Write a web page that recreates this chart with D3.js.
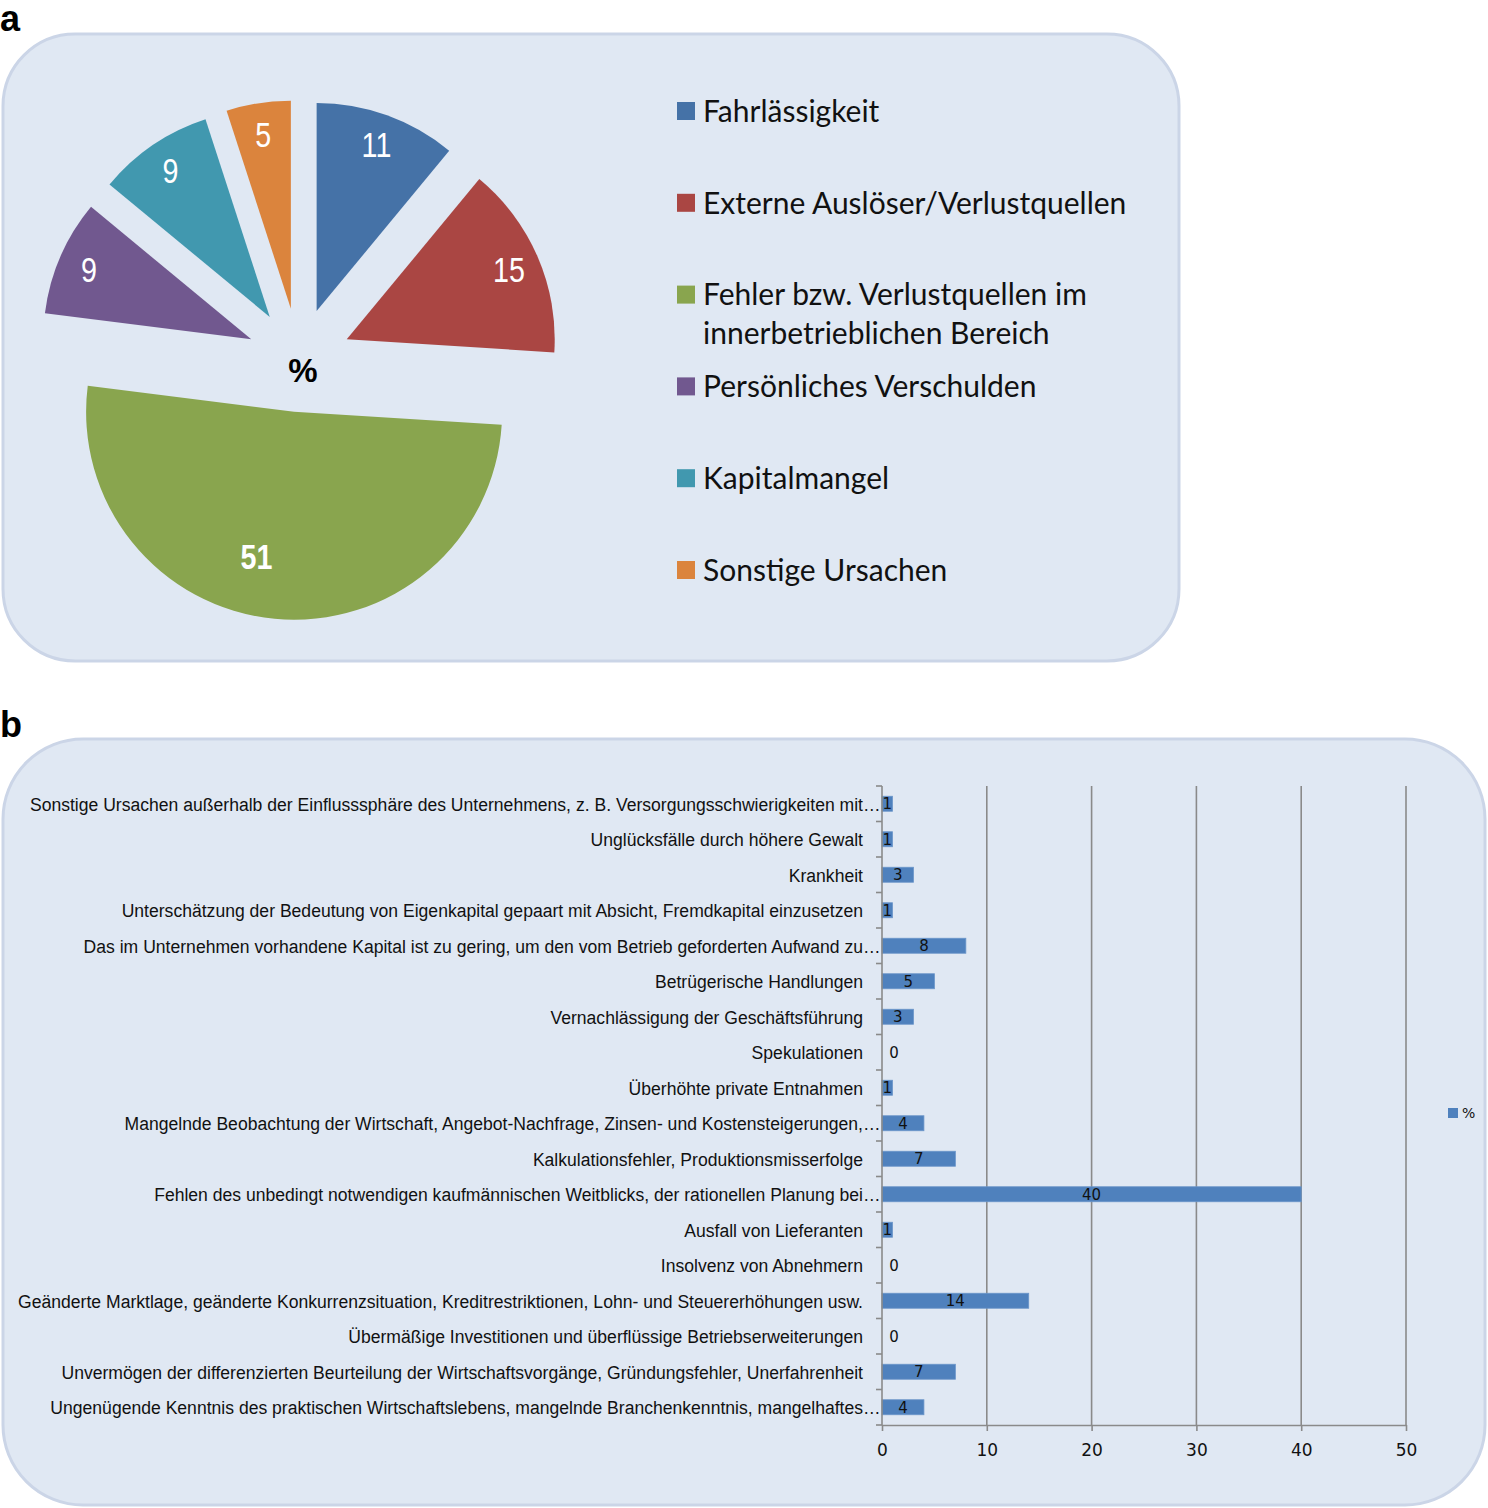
<!DOCTYPE html>
<html>
<head>
<meta charset="utf-8">
<script src="https://cdn.jsdelivr.net/npm/d3@7"></script>
<style>
  body { margin: 0; background: #fff; }
  svg { display: block; }
</style>
</head>
<body>
<svg id="chart" width="1488" height="1508"></svg>
<script>
// pie data (panel a)

var pieCategories = ["Fahrlässigkeit", "Externe Auslöser/Verlustquellen",
  "Fehler bzw. Verlustquellen im innerbetrieblichen Bereich",
  "Persönliches Verschulden", "Kapitalmangel", "Sonstige Ursachen"];
var pieValues = [11, 15, 51, 9, 9, 5];
var pieLegendLines = [["Fahrlässigkeit"], ["Externe Auslöser/Verlustquellen"],
  ["Fehler bzw. Verlustquellen im", "innerbetrieblichen Bereich"],
  ["Persönliches Verschulden"], ["Kapitalmangel"], ["Sonstige Ursachen"]];
var pieColors = ["#4572a7", "#aa4643", "#89a54e", "#71588f", "#4198af", "#db843d"];

// bar data (panel b), top to bottom

var barCategories = [
  "Sonstige Ursachen außerhalb der Einflusssphäre des Unternehmens, z. B. Versorgungsschwierigkeiten mit…",
  "Unglücksfälle durch höhere Gewalt",
  "Krankheit",
  "Unterschätzung der Bedeutung von Eigenkapital gepaart mit Absicht, Fremdkapital einzusetzen",
  "Das im Unternehmen vorhandene Kapital ist zu gering, um den vom Betrieb geforderten Aufwand zu…",
  "Betrügerische Handlungen",
  "Vernachlässigung der Geschäftsführung",
  "Spekulationen",
  "Überhöhte  private Entnahmen",
  "Mangelnde Beobachtung der Wirtschaft, Angebot-Nachfrage, Zinsen- und Kostensteigerungen,…",
  "Kalkulationsfehler, Produktionsmisserfolge",
  "Fehlen des unbedingt notwendigen kaufmännischen Weitblicks, der rationellen Planung bei…",
  "Ausfall von Lieferanten",
  "Insolvenz von Abnehmern",
  "Geänderte Marktlage, geänderte Konkurrenzsituation, Kreditrestriktionen, Lohn- und Steuererhöhungen usw.",
  "Übermäßige Investitionen und überflüssige Betriebserweiterungen",
  "Unvermögen der differenzierten Beurteilung der Wirtschaftsvorgänge, Gründungsfehler, Unerfahrenheit",
  "Ungenügende Kenntnis des praktischen Wirtschaftslebens, mangelnde Branchenkenntnis, mangelhaftes…"
];
var barValues = [1, 1, 3, 1, 8, 5, 3, 0, 1, 4, 7, 40, 1, 0, 14, 0, 7, 4];
var barTicks = [0, 10, 20, 30, 40, 50];
var barSeries = "%";

var svg = d3.select("#chart");
var panelFill = "#e0e8f3", panelStroke = "#cbd5e7";
var arial = "'Liberation Sans', Arial, sans-serif";
var narrowScale = 0.82;   // fake Arial Narrow for pie numbers
var catScale = 0.925;     // squeeze for the long category labels

// panel letters and backgrounds

svg.append("text").attr("x", 0).attr("y", 31)
  .style("font", "bold 36px " + arial).text("a");
svg.append("text").attr("x", 0).attr("y", 737)
  .style("font", "bold 36px " + arial).text("b");

svg.append("rect").attr("x", 3).attr("y", 34).attr("width", 1176).attr("height", 627)
  .attr("rx", 72).attr("fill", panelFill).attr("stroke", panelStroke).attr("stroke-width", 3);
svg.append("rect").attr("x", 3).attr("y", 739).attr("width", 1482).attr("height", 766)
  .attr("rx", 80).attr("fill", panelFill).attr("stroke", panelStroke).attr("stroke-width", 3);

// exploded pie

var cx = 299, cy = 360, radius = 208, explode = 52;
var pie = d3.pie().sort(null).value(function (d) { return d; });
var arc = d3.arc().innerRadius(0).outerRadius(radius);
var arcs = pie(pieValues);

var pieG = svg.append("g").attr("transform", "translate(" + cx + "," + cy + ")");

var slice = pieG.selectAll("g.slice").data(arcs).enter().append("g")
  .attr("class", "slice")
  .attr("transform", function (d) {
    var a = (d.startAngle + d.endAngle) / 2;
    return "translate(" + (explode * Math.sin(a)) + "," + (-explode * Math.cos(a)) + ")";
  });

slice.append("path")
  .attr("d", arc)
  .attr("fill", function (d, i) { return pieColors[i]; });

// labels sit near the rim, the big slice gets its label pulled inward

slice.append("text")
  .attr("transform", function (d) {
    var a = (d.startAngle + d.endAngle) / 2;
    if (d.value > 50) a += 0.16;
    var r = d.value > 50 ? radius * 0.72 : radius * 0.85;
    return "translate(" + (r * Math.sin(a)) + "," + (-r * Math.cos(a)) + ") scale(" + narrowScale + ",1)";
  })
  .attr("text-anchor", "middle")
  .attr("dy", "0.36em")
  .attr("fill", "#fff")
  .style("font-family", arial)
  .style("font-size", "35px")
  .style("font-weight", function (d) { return d.value > 50 ? "bold" : "normal"; })
  .text(function (d) { return d.value; });

pieG.append("text").attr("x", 4).attr("y", 10).attr("dy", "0.36em")
  .attr("text-anchor", "middle")
  .style("font", "bold 33px " + arial)
  .text("%");

// pie legend

var legend = svg.append("g").attr("transform", "translate(677,111)");
var legItem = legend.selectAll("g").data(pieLegendLines).enter().append("g")
  .attr("transform", function (d, i) { return "translate(0," + (i * 91.8) + ")"; });

legItem.append("rect").attr("x", 0).attr("y", -9).attr("width", 18).attr("height", 18)
  .attr("fill", function (d, i) { return pieColors[i]; });

legItem.append("text")
  .style("font-family", "Lato, 'Open Sans', sans-serif")
  .style("font-size", "30px")
  .attr("fill", "#111")
  .selectAll("tspan").data(function (d) { return d; }).enter().append("tspan")
  .attr("x", 26)
  .attr("y", function (d, i) { return i * 39; })
  .attr("dy", "0.36em")
  .text(function (d) { return d; });

// bar chart

var x = d3.scaleLinear().domain([0, 50]).range([882, 1406]);
var y = d3.scaleBand().domain(d3.range(barCategories.length)).range([786, 1425]);
var gridColor = "#8a8a8a";

var plot = svg.append("g");

plot.selectAll("line.grid").data(barTicks.slice(1)).enter().append("line")
  .attr("x1", x).attr("x2", x).attr("y1", 786).attr("y2", 1425)
  .attr("stroke", gridColor).attr("stroke-width", 1.6);

var barH = 15;
plot.selectAll("rect.bar").data(barValues).enter().append("rect")
  .attr("x", x(0))
  .attr("y", function (d, i) { return y(i) + y.bandwidth() / 2 - barH / 2; })
  .attr("width", function (d) { return x(d) - x(0); })
  .attr("height", barH)
  .attr("fill", "#4f81bd")
  .attr("stroke", "#6a95c9").attr("stroke-width", function (d) { return d > 0 ? 0.8 : 0; });

plot.selectAll("text.val").data(barValues).enter().append("text")
  .attr("x", function (d) { return d > 0 ? (x(d) + x(0)) / 2 : x(0) + 12; })
  .attr("y", function (d, i) { return y(i) + y.bandwidth() / 2; })
  .attr("dy", "0.38em")
  .attr("text-anchor", "middle")
  .style("font", "15px 'DejaVu Sans', Verdana, sans-serif")
  .attr("fill", "#111")
  .text(function (d) { return d; });

// y axis with category ticks

plot.append("line").attr("x1", x(0)).attr("x2", x(0)).attr("y1", 786).attr("y2", 1425)
  .attr("stroke", gridColor).attr("stroke-width", 1.6);
plot.selectAll("line.ytick").data(d3.range(barCategories.length + 1)).enter().append("line")
  .attr("x1", x(0) - 6).attr("x2", x(0))
  .attr("y1", function (i) { return 786 + i * y.step(); })
  .attr("y2", function (i) { return 786 + i * y.step(); })
  .attr("stroke", gridColor).attr("stroke-width", 1.6);

// category labels, squeezed horizontally; ellipsis hangs past the label edge

var catG = plot.selectAll("g.cat").data(barCategories).enter().append("g")
  .attr("transform", function (d, i) {
    return "translate(863," + (y(i) + y.bandwidth() / 2) + ") scale(" + catScale + ",1)";
  });

catG.append("text")
  .attr("text-anchor", "end")
  .attr("dy", "0.36em")
  .style("font-family", arial)
  .style("font-size", "19px")
  .attr("fill", "#111")
  .text(function (d) { return d.slice(-1) === "…" ? d.slice(0, -1) : d; });

catG.filter(function (d) { return d.slice(-1) === "…"; }).append("text")
  .attr("x", 0)
  .attr("dy", "0.36em")
  .style("font-family", arial)
  .style("font-size", "19px")
  .attr("fill", "#111")
  .text("…");

// x axis

var xAxis = d3.axisBottom(x).tickValues(barTicks).tickSize(6).tickSizeOuter(0);
var xg = plot.append("g").attr("transform", "translate(0,1425)").call(xAxis);
xg.select(".domain").attr("stroke", gridColor).attr("stroke-width", 1.6);
xg.selectAll(".tick line").attr("stroke", gridColor).attr("stroke-width", 1.6);
xg.selectAll(".tick text")
  .attr("y", 19)
  .style("font", "17px 'DejaVu Sans', Verdana, sans-serif")
  .attr("fill", "#111");

// series legend

var sl = svg.append("g").attr("transform", "translate(1448,1113)");
sl.append("rect").attr("x", 0).attr("y", -5).attr("width", 10).attr("height", 10).attr("fill", "#4f81bd");
sl.append("text").attr("x", 14).attr("dy", "0.36em")
  .style("font", "14px 'DejaVu Sans', Verdana, sans-serif").attr("fill", "#111").text(barSeries);
</script>
</body>
</html>
